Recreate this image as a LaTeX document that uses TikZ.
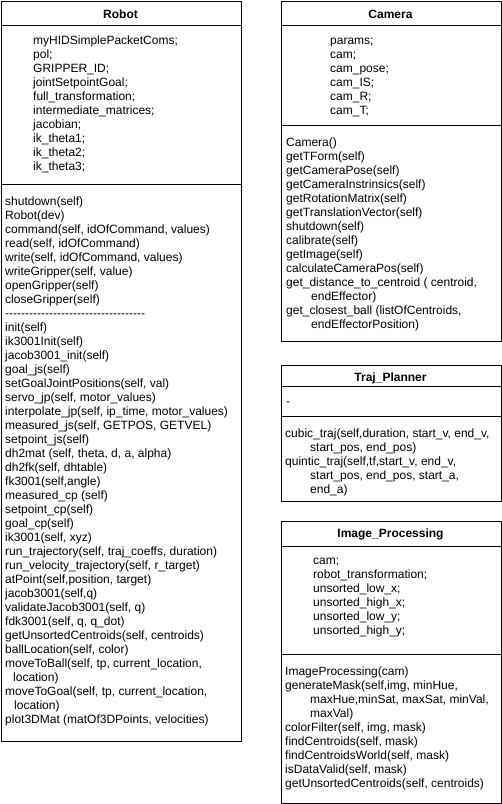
\documentclass[tikz,border=0pt]{standalone}
\usepackage{fontspec}
\newfontfamily\uml{Liberation Sans}
\begin{document}
\begin{tikzpicture}[x=1pt,y=-1pt,
  txt/.style={anchor=base west, inner sep=0pt, font=\uml\fontsize{12}{14}\selectfont},
  ttl/.style={anchor=base, inner sep=0pt, font=\uml\bfseries\fontsize{12}{14}\selectfont},
  classbox/.style={draw=black, line width=1pt, anchor=north west, inner sep=0pt},
  sep/.style={draw=black, line width=1pt}]
\useasboundingbox (0,0) rectangle (502,804);

% ---------------- Robot ----------------
\node[classbox, minimum width=240pt, minimum height=740pt] (robot) at (0.5,0.5) {};
\draw[sep] ([yshift=-25pt]robot.north west) -- ([yshift=-25pt]robot.north east);
\draw[sep] ([yshift=-184pt]robot.north west) -- ([yshift=-184pt]robot.north east);
\node[ttl] (robotT) at (120.5,18.3) {Robot};
\foreach [count=\i from 0] \t in {{myHIDSimplePacketComs;},{pol;},{GRIPPER\_ID;},{jointSetpointGoal;},{full\_transformation;},{intermediate\_matrices;},{jacobian;},{ik\_theta1;},{ik\_theta2;},{ik\_theta3;}}
  \node[txt] (ra\i) at (33,{44+14*\i}) {\t};
\foreach [count=\i from 0] \dx/\t in {0/{shutdown(self)},0/{Robot(dev)},0/{command(self, idOfCommand, values)},0/{read(self, idOfCommand)},0/{write(self, idOfCommand, values)},0/{writeGripper(self, value)},0/{openGripper(self)},0/{closeGripper(self)},0/{-----------------------------------},0/{init(self)},0/{ik3001Init(self)},0/{jacob3001\_init(self)},0/{goal\_js(self)},0/{setGoalJointPositions(self, val)},0/{servo\_jp(self, motor\_values)},0/{interpolate\_jp(self, ip\_time, motor\_values)},0/{measured\_js(self, GETPOS, GETVEL)},0/{setpoint\_js(self)},0/{dh2mat (self, theta, d, a, alpha)},0/{dh2fk(self, dhtable)},0/{fk3001(self,angle)},0/{measured\_cp (self)},0/{setpoint\_cp(self)},0/{goal\_cp(self)},0/{ik3001(self, xyz)},0/{run\_trajectory(self, traj\_coeffs, duration)},0/{run\_velocity\_trajectory(self, r\_target)},0/{atPoint(self,position, target)},0/{jacob3001(self,q)},0/{validateJacob3001(self, q)},0/{fdk3001(self, q, q\_dot)},0/{getUnsortedCentroids(self, centroids)},0/{ballLocation(self, color)},0/{moveToBall(self, tp, current\_location,},8/{location)},0/{moveToGoal(self, tp, current\_location,},9/{location)},0/{plot3DMat (matOf3DPoints, velocities)}}
  \node[txt] (rm\i) at ({5+\dx},{205+14*\i}) {\t};

% ---------------- Camera ----------------
\node[classbox, minimum width=220pt, minimum height=340pt] (camera) at (280.5,0.5) {};
\draw[sep] ([yshift=-25pt]camera.north west) -- ([yshift=-25pt]camera.north east);
\draw[sep] ([yshift=-125pt]camera.north west) -- ([yshift=-125pt]camera.north east);
\node[ttl] (cameraT) at (390.5,18.3) {Camera};
\foreach [count=\i from 0] \t in {{params;},{cam;},{cam\_pose;},{cam\_IS;},{cam\_R;},{cam\_T;}}
  \node[txt] (ca\i) at (330,{44+14*\i}) {\t};
\foreach [count=\i from 0] \dx/\t in {0/{Camera()},0/{getTForm(self)},0/{getCameraPose(self)},0/{getCameraInstrinsics(self)},0/{getRotationMatrix(self)},0/{getTranslationVector(self)},0/{shutdown(self)},0/{calibrate(self)},0/{getImage(self)},0/{calculateCameraPos(self)},0/{get\_distance\_to\_centroid ( centroid,},25/{endEffector)},0/{get\_closest\_ball (listOfCentroids,},25/{endEffectorPosition)}}
  \node[txt] (cm\i) at ({286+\dx},{146+14*\i}) {\t};

% ---------------- Traj_Planner ----------------
\node[classbox, minimum width=220pt, minimum height=136pt] (traj) at (280.5,364.5) {};
\draw[sep] ([yshift=-21.5pt]traj.north west) -- ([yshift=-21.5pt]traj.north east);
\draw[sep] ([yshift=-51.5pt]traj.north west) -- ([yshift=-51.5pt]traj.north east);
\node[ttl] (trajT) at (390.5,381.8) {Traj\_Planner};
\node[txt] (ta0) at (286,405) {-};
\foreach [count=\i from 0] \dx/\t in {0/{cubic\_traj(self,duration, start\_v, end\_v,},25/{start\_pos, end\_pos)},0/{quintic\_traj(self,tf,start\_v, end\_v,},25/{start\_pos, end\_pos, start\_a,},25/{end\_a)}}
  \node[txt] (tm\i) at ({285+\dx},{437+14*\i}) {\t};

% ---------------- Image_Processing ----------------
\node[classbox, minimum width=220pt, minimum height=282pt] (imgp) at (280.5,520.5) {};
\draw[sep] ([yshift=-25.5pt]imgp.north west) -- ([yshift=-25.5pt]imgp.north east);
\draw[sep] ([yshift=-133.5pt]imgp.north west) -- ([yshift=-133.5pt]imgp.north east);
\node[ttl] (imgpT) at (390.5,537.5) {Image\_Processing};
\foreach [count=\i from 0] \t in {{cam;},{robot\_transformation;},{unsorted\_low\_x;},{unsorted\_high\_x;},{unsorted\_low\_y;},{unsorted\_high\_y;}}
  \node[txt] (ia\i) at (313,{564+14*\i}) {\t};
\foreach [count=\i from 0] \dx/\t in {0/{ImageProcessing(cam)},0/{generateMask(self,img, minHue,},25/{maxHue,minSat, maxSat, minVal,},25/{maxVal)},0/{colorFilter(self, img, mask)},0/{findCentroids(self, mask)},0/{findCentroidsWorld(self, mask)},0/{isDataValid(self, mask)},0/{getUnsortedCentroids(self, centroids)}}
  \node[txt] (im\i) at ({285+\dx},{675+14*\i}) {\t};
\end{tikzpicture}
\end{document}
